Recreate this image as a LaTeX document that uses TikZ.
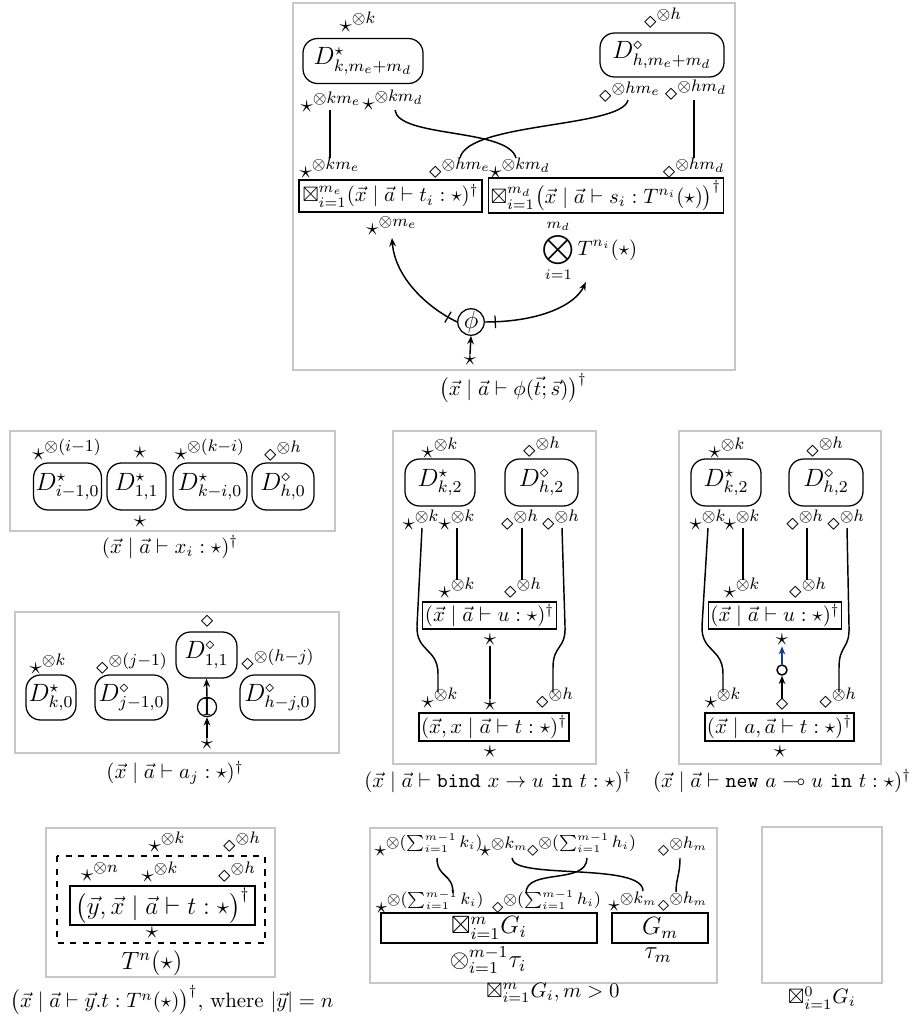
\documentclass[tikz,border=0pt]{standalone}
\usepackage{amsmath,amssymb}
\usetikzlibrary{arrows.meta,decorations.markings}
\newdimen\pxu \pxu=0.48pt
\definecolor{myblue}{RGB}{16,64,140}
\tikzset{
 panel/.style={draw=black!22, line width=0.5pt},
 wh/.style 2 args={minimum width={#1*\pxu}, minimum height={#2*\pxu}},
 dbox/.style={draw, rounded corners=7pt, line width=0.6pt, inner sep=1pt, font=\large},
 tbox/.style={draw, line width=0.6pt, inner sep=1pt, font=\normalsize},
 lab/.style={inner sep=0pt, font=\large},
 slab/.style={inner sep=0pt, font=\fontsize{11}{13}\selectfont},
 captxt/.style={inner sep=0pt},
 wire/.style={line width=0.7pt},
 arr/.style={line width=0.7pt, -{Stealth[length=4pt,width=3.2pt]}},
 tickmark/.style={postaction={decorate}, decoration={markings, mark=at position 5pt with {\draw[-, line width=0.6pt] (0,-3pt) -- (0,3pt);}}},
}
\begin{document}
\begin{tikzpicture}[x=0.48pt,y=-0.48pt]
\useasboundingbox (0,0) rectangle (914,1018);

% ================= Panel 1 =================
\draw[panel] (293,3) rectangle (735,370);
\node[dbox, wh={120}{45}] (Dk) at (363,61) {$D^\star_{k,m_e+m_d}$};
\node[dbox, wh={124}{44}] (Dh) at (662,55) {$D^\diamond_{h,m_e+m_d}$};
\node[lab] (p1a) at (358,22) {$\star^{\otimes k}$};
\node[lab] (p1b) at (663,18) {$\diamond^{\otimes h}$};
\node[lab] (p1c) at (331,102) {$\star^{\otimes km_e}$};
\node[lab] (p1d) at (393,100) {$\star^{\otimes km_d}$};
\node[lab] (p1e) at (630,92) {$\diamond^{\otimes hm_e}$};
\node[lab] (p1f) at (696,90) {$\diamond^{\otimes hm_d}$};
\node[lab] (p1g) at (330,168) {$\star^{\otimes km_e}$};
\node[lab] (p1h) at (460,168) {$\diamond^{\otimes hm_e}$};
\node[lab] (p1i) at (520,168) {$\star^{\otimes km_d}$};
\node[lab] (p1j) at (694,168) {$\diamond^{\otimes hm_d}$};
\coordinate (w1a) at (330,110); \coordinate (w1b) at (330,158);
\coordinate (w2a) at (395,110); \coordinate (w2b) at (516,158);
\coordinate (w3a) at (628,100); \coordinate (w3b) at (460,158);
\coordinate (w4a) at (694,100); \coordinate (w4b) at (694,158);
\draw[wire] (w1a) -- (w1b);
\draw[wire] (w2a) .. controls (398,138) and (508,128) .. (w2b);
\draw[wire] (w3a) .. controls (622,128) and (468,122) .. (w3b);
\draw[wire] (w4a) -- (w4b);
\node[tbox, wh={183}{32}] (B1) at (390.5,196) {$\boxtimes_{i=1}^{m_e}(\vec x \mid \vec a \vdash t_i : \star)^\dagger$};
\node[tbox, wh={234}{35}] (B2) at (606,195.5) {$\boxtimes_{i=1}^{m_d}\big(\vec x \mid \vec a \vdash s_i : T^{n_i}(\star)\big)^\dagger$};
\node[lab] (me) at (392,226) {$\star^{\otimes m_e}$};
\node[inner sep=0pt, font=\normalsize] (tens) at (590,251) {$\displaystyle\bigotimes_{i=1}^{m_d} T^{n_i}(\star)$};
\node[draw, circle, line width=0.6pt, inner sep=0pt, minimum size={20*\pxu}, font=\large] (phi) at (471,322) {$\phi$};
\node[lab] (phis) at (470,360) {$\star$};
\draw[arr] (phis.north) -- (phi.south);
\draw[arr, tickmark] (phi.west) .. controls (428,308) and (395,278) .. ([yshift=-1pt]me.south);
\draw[arr, tickmark] (phi.east) .. controls (540,322) and (575,305) .. ([xshift=-2pt]tens.south);
\node[captxt] (c1) at (513,388) {$\big(\vec x \mid \vec a \vdash \phi(\vec t; \vec s)\big)^\dagger$};

% ================= Panel 2 =================
\draw[panel] (10,431) rectangle (335,531);
\node[dbox, wh={67}{47}] (P2a) at (67.5,486.5) {$D^\star_{i-1,0}$};
\node[dbox, wh={59}{47}] (P2b) at (136.5,486.5) {$D^\star_{1,1}$};
\node[dbox, wh={74}{47}] (P2c) at (210,486.5) {$D^\star_{k-i,0}$};
\node[dbox, wh={62}{47}] (P2d) at (283,486.5) {$D^\diamond_{h,0}$};
\node[lab] (p2a) at (67,450) {$\star^{\otimes(i-1)}$};
\node[lab] (p2b) at (140,453) {$\star$};
\node[lab] (p2c) at (210,450) {$\star^{\otimes(k-i)}$};
\node[lab] (p2d) at (283,451) {$\diamond^{\otimes h}$};
\node[lab] (p2e) at (140,522) {$\star$};
\node[captxt] (c2) at (170,547) {$(\vec x \mid \vec a \vdash x_i : \star)^\dagger$};

% ================= Panel 3 =================
\draw[panel] (15,612) rectangle (339,753);
\node[dbox, wh={50}{45}] (P3a) at (51,697.5) {$D^\star_{k,0}$};
\node[dbox, wh={73}{45}] (P3b) at (131.5,697.5) {$D^\diamond_{j-1,0}$};
\node[dbox, wh={61}{46}] (P3c) at (206.5,655) {$D^\diamond_{1,1}$};
\node[dbox, wh={75}{45}] (P3d) at (277.5,697.5) {$D^\diamond_{h-j,0}$};
\node[lab] (p3a) at (48,664) {$\star^{\otimes k}$};
\node[lab] (p3b) at (132,664) {$\diamond^{\otimes(j-1)}$};
\node[lab] (p3c) at (207,622) {$\diamond$};
\node[lab] (p3d) at (278,660) {$\diamond^{\otimes(h-j)}$};
\node[draw, circle, line width=0.6pt, inner sep=0pt, minimum size={15*\pxu}, font=\large] (Ic) at (207,707) {$\mathrm{I}$};
\node[lab] (p3s) at (207,744) {$\star$};
\draw[arr] (p3s.north) -- (Ic.south);
\draw[arr] (Ic.north) -- (P3c.south);
\node[captxt] (c3) at (175,773) {$(\vec x \mid \vec a \vdash a_j : \star)^\dagger$};

% ================= Panel 4 (bind) =================
\draw[panel] (393,431) rectangle (596,764);
\node[dbox, wh={70}{47}] (P4a) at (440,482.5) {$D^\star_{k,2}$};
\node[dbox, wh={73}{47}] (P4b) at (541.5,482.5) {$D^\diamond_{h,2}$};
\node[lab] (p4a) at (440,448) {$\star^{\otimes k}$};
\node[lab] (p4b) at (542,447) {$\diamond^{\otimes h}$};
\node[lab] (p4c) at (421,520) {$\star^{\otimes k}$};
\node[lab] (p4d) at (457,520) {$\star^{\otimes k}$};
\node[lab] (p4e) at (520,520) {$\diamond^{\otimes h}$};
\node[lab] (p4f) at (561,520) {$\diamond^{\otimes h}$};
\coordinate (b1a) at (422,528); \coordinate (b1b) at (438,692);
\coordinate (b2a) at (457,528); \coordinate (b2b) at (457,580);
\coordinate (b3a) at (522,528); \coordinate (b3b) at (522,580);
\coordinate (b4a) at (562,528); \coordinate (b4b) at (553,692);
\draw[wire] (b1a) -- (417,626) .. controls (416,652) and (438,648) .. (438,674) -- (b1b);
\draw[wire] (b2a) -- (b2b);
\draw[wire] (b3a) -- (b3b);
\draw[wire] (b4a) -- (565,626) .. controls (566,650) and (553,644) .. (553,668) -- (b4b);
\node[lab] (p4g) at (457,588) {$\star^{\otimes k}$};
\node[lab] (p4h) at (523,588) {$\diamond^{\otimes h}$};
\node[tbox, wh={131}{27}] (U4) at (489.5,615.5) {$(\vec x \mid \vec a \vdash u : \star)^\dagger$};
\node[lab] (p4i) at (490,640) {$\star$};
\node[lab] (p4j) at (440,698) {$\star^{\otimes k}$};
\node[lab] (p4k) at (490,705) {$\star$};
\node[lab] (p4l) at (555,698) {$\diamond^{\otimes h}$};
\draw[wire] (p4i.south) -- (p4k.north);
\node[tbox, wh={146}{28}] (T4) at (494,727) {$(\vec x, x \mid \vec a \vdash t : \star)^\dagger$};
\node[lab] (p4m) at (490,752) {$\star$};
\node[captxt] (c4) at (498,781) {$(\vec x \mid \vec a \vdash \mathtt{bind}\ x \to u\ \mathtt{in}\ t : \star)^\dagger$};

% ================= Panel 5 (new) =================
\draw[panel] (679,431) rectangle (881,764);
\node[dbox, wh={70}{47}] (P5a) at (726,482.5) {$D^\star_{k,2}$};
\node[dbox, wh={74}{47}] (P5b) at (826,482.5) {$D^\diamond_{h,2}$};
\node[lab] (p5a) at (727,448) {$\star^{\otimes k}$};
\node[lab] (p5b) at (825,447) {$\diamond^{\otimes h}$};
\node[lab] (p5c) at (708,520) {$\star^{\otimes k}$};
\node[lab] (p5d) at (742,520) {$\star^{\otimes k}$};
\node[lab] (p5e) at (805,520) {$\diamond^{\otimes h}$};
\node[lab] (p5f) at (846,520) {$\diamond^{\otimes h}$};
\coordinate (n1a) at (708,528); \coordinate (n1b) at (723,692);
\coordinate (n2a) at (743,528); \coordinate (n2b) at (743,580);
\coordinate (n3a) at (807,528); \coordinate (n3b) at (807,580);
\coordinate (n4a) at (847,528); \coordinate (n4b) at (839,692);
\draw[wire] (n1a) -- (702,626) .. controls (701,652) and (723,648) .. (723,674) -- (n1b);
\draw[wire] (n2a) -- (n2b);
\draw[wire] (n3a) -- (n3b);
\draw[wire] (n4a) -- (849,626) .. controls (850,650) and (839,644) .. (839,668) -- (n4b);
\node[lab] (p5g) at (742,588) {$\star^{\otimes k}$};
\node[lab] (p5h) at (808,588) {$\diamond^{\otimes h}$};
\node[tbox, wh={130}{27}] (U5) at (775,615.5) {$(\vec x \mid \vec a \vdash u : \star)^\dagger$};
\node[lab] (p5i) at (782,640) {$\star$};
\node[draw, circle, line width=0.7pt, inner sep=0pt, minimum size={10*\pxu}] (oc) at (782,670) {};
\draw[arr, myblue] (oc.north) -- (p5i.south);
\node[lab] (p5j) at (723,698) {$\star^{\otimes k}$};
\node[lab] (p5k) at (782,705) {$\diamond$};
\node[lab] (p5l) at (838,698) {$\diamond^{\otimes h}$};
\draw[arr] (p5k.north) -- (oc.south);
\node[tbox, wh={147}{28}] (T5) at (779.5,727) {$(\vec x \mid a, \vec a \vdash t : \star)^\dagger$};
\node[lab] (p5m) at (780,752) {$\star$};
\node[captxt] (c5) at (782,781) {$(\vec x \mid \vec a \vdash \mathtt{new}\ a \multimap u\ \mathtt{in}\ t : \star)^\dagger$};

% ================= Panel 6 =================
\draw[panel] (46,828) rectangle (275,977);
\draw[dashed, line width=0.6pt] (57,856) rectangle (265,943);
\node[lab] (p6a) at (167,842) {$\star^{\otimes k}$};
\node[lab] (p6b) at (242,842) {$\diamond^{\otimes h}$};
\node[lab] (p6c) at (100,872) {$\star^{\otimes n}$};
\node[lab] (p6d) at (160,872) {$\star^{\otimes k}$};
\node[lab] (p6e) at (237,872) {$\diamond^{\otimes h}$};
\node[tbox, font=\large, wh={185}{33}] (T6) at (162.5,905.5) {$\big(\vec y, \vec x \mid \vec a \vdash t : \star\big)^\dagger$};
\node[lab] (p6f) at (152,933) {$\star$};
\node[lab] (p6g) at (152,963) {$T^n(\star)$};
\node[captxt] (c6) at (172,1000) {$\big(\vec x \mid \vec a \vdash \vec y.t : T^n(\star)\big)^\dagger$, where $|\vec y| = n$};

% ================= Panel 7 =================
\draw[panel] (370,828) rectangle (717,983);
\node[slab] (p7a) at (429,845) {$\star^{\otimes(\sum_{i=1}^{m-1} k_i)}$};
\node[slab] (p7b) at (504,847) {$\star^{\otimes k_m}$};
\node[slab] (p7c) at (582,845) {$\diamond^{\otimes(\sum_{i=1}^{m-1} h_i)}$};
\node[slab] (p7d) at (683,847) {$\diamond^{\otimes h_m}$};
\coordinate (g1a) at (437,858); \coordinate (g1b) at (453,893);
\coordinate (g2a) at (587,858); \coordinate (g2b) at (526,893);
\coordinate (g3a) at (512,858); \coordinate (g3b) at (643,891);
\coordinate (g4a) at (680,858); \coordinate (g4b) at (676,892);
\draw[wire] (g1a) .. controls (437,878) and (453,873) .. (g1b);
\draw[wire] (g2a) .. controls (587,885) and (526,868) .. (g2b);
\draw[wire] (g3a) .. controls (512,880) and (643,862) .. (g3b);
\draw[wire] (g4a) .. controls (680,875) and (676,878) .. (g4b);
\node[slab] (p7e) at (430,902) {$\star^{\otimes(\sum_{i=1}^{m-1} k_i)}$};
\node[slab] (p7f) at (547,902) {$\diamond^{\otimes(\sum_{i=1}^{m-1} h_i)}$};
\node[slab] (p7g) at (633,902) {$\star^{\otimes k_m}$};
\node[slab] (p7h) at (683,902) {$\diamond^{\otimes h_m}$};
\node[tbox, font=\large, wh={216}{30}] (G1) at (489,928) {$\boxtimes_{i=1}^m G_i$};
\node[tbox, font=\large, wh={96}{30}] (G2) at (660,928) {$G_m$};
\node[lab] (p7i) at (488,960) {$\otimes_{i=1}^{m-1}\tau_i$};
\node[lab] (p7j) at (658,955) {$\tau_m$};
\node[captxt] (c7) at (553,993) {$\boxtimes_{i=1}^m G_i, m > 0$};

% ================= Panel 8 =================
\draw[panel] (762,827) rectangle (882,983);
\node[captxt] (c8) at (822,998) {$\boxtimes_{i=1}^0 G_i$};
\end{tikzpicture}
\end{document}
